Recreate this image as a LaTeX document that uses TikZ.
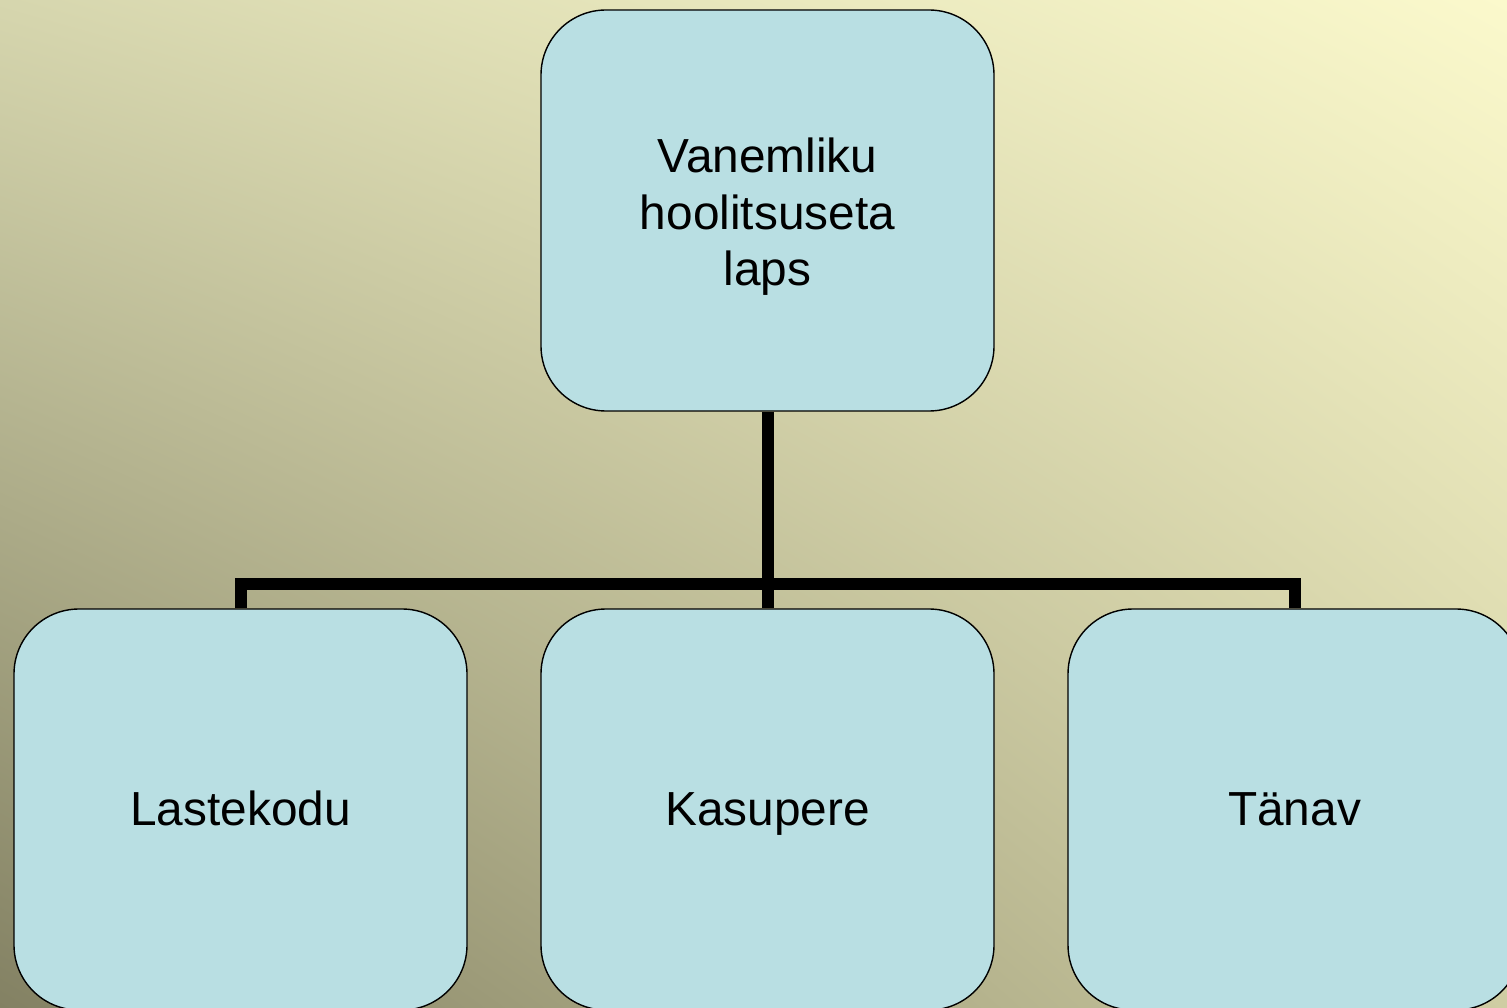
\documentclass[tikz,border=0pt]{standalone}
\usepackage{fontspec}
\setmainfont{Liberation Sans}
\usepackage{tikz}
\usetikzlibrary{calc,positioning,shadings}

\definecolor{bgdark}{HTML}{838163}
\definecolor{bglight}{HTML}{FBF9CC}
\definecolor{bgul}{HTML}{D6D6AE}
\definecolor{bglr}{HTML}{CFCDA3}
\definecolor{boxblue}{HTML}{B9DFE3}

\begin{document}
\begin{tikzpicture}
      \tikzset{
	  box/.style={draw=black, thin, fill=boxblue, rounded corners=0.65cm, minimum width=4.53cm, minimum height=4.01cm, align=center, inner sep=0pt, font=\fontsize{13.6}{16.1}\selectfont},
	  leaf/.style={box, text height=0.95em, text depth=0.06em},
	  link/.style={draw=black, line width=0.12cm},
      }
      \clip (0,0) rectangle (15.07,-10.08);
      \shade [upper left=bgul, upper right=bglight, lower left=bgdark, lower right=bglr] (0,0) rectangle (15.07,-10.08);

      % boxes
      \node (root) at (7.675,-2.105) [box] {\rule{0pt}{13.4pt}Vanemliku\\hoolitsuseta\\laps};
      \node (lastekodu) at (2.405,-8.095) [leaf] {Lastekodu};
      \node (kasupere) at (7.675,-8.095) [leaf] {Kasupere};
      \node (tanav) at (12.945,-8.095) [leaf] {Tänav};

      % tree lines
      \coordinate (bus) at (7.675,-5.84);
      \draw [link] (root.south) -- (kasupere.north);
      \draw [link] (lastekodu.north) |- (bus) -| (tanav.north);
    \end{tikzpicture}
\end{document}
